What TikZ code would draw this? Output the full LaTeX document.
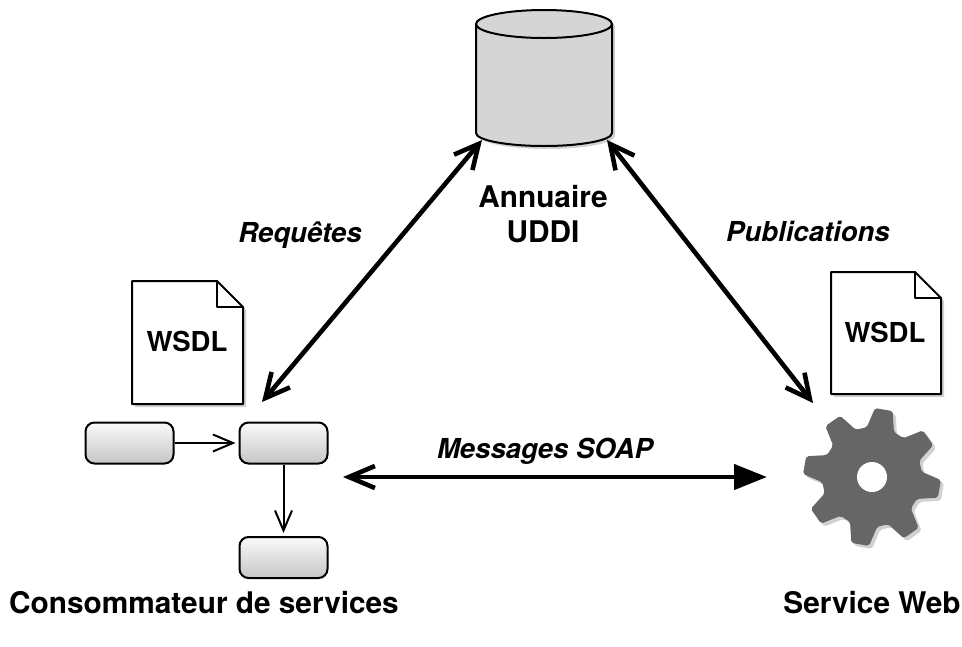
\documentclass[tikz,border=0pt]{standalone}
\usepackage{fontspec}
\setmainfont{TeX Gyre Heros}
\usetikzlibrary{arrows.meta,shadows}
\tikzset{
  softshadow/.style={drop shadow={shadow xshift=3pt,shadow yshift=-3pt,opacity=0.18,fill=black}},
  stepbox/.style={draw, line width=2pt, rounded corners=9pt, minimum width=88pt, minimum height=41pt,
    inner sep=0pt, top color=gray!4, bottom color=gray!45},
  biglabel/.style={font=\fontsize{29.8}{35}\selectfont\bfseries, align=center, inner sep=0pt},
  wsdllabel/.style={font=\fontsize{27.5}{32}\selectfont\bfseries, inner sep=0pt},
  emlabel/.style={font=\fontsize{27.5}{32}\selectfont\bfseries\itshape, inner sep=0pt, anchor=base},
  bigarrow/.style={line width=4.6pt, {Straight Barb[length=24pt,width=24pt]}-{Straight Barb[length=24pt,width=24pt]}},
  smallarrow/.style={line width=2pt, -{Straight Barb[length=20pt,width=17pt]}, shorten >=3pt},
}
\newcommand{\wsdlpage}[4]{% left, top, right, bottom
  \fill [white, softshadow] (#1,#2) -- (#3-26,#2) -- (#3,#2+26) -- (#3,#4) -- (#1,#4) -- cycle;
  \draw [line width=2pt, line join=round] (#1,#2) -- (#3-26,#2) -- (#3,#2+26) -- (#3,#4) -- (#1,#4) -- cycle;
  \draw [line width=2pt, line join=round] (#3-26,#2) -- (#3-26,#2+26) -- (#3,#2+26);
}
\begin{document}
\begin{tikzpicture}[x=1pt,y=-1pt]
\useasboundingbox (0,0) rectangle (962,646);
%%%%%%%%%%%%%%%%%%%%%%%%%%%%%%%
% annuaire
%%%%%%%%%%%%%%%%%%%%%%%%%%%%%%%
\draw [line width=2pt, line join=round, fill=gray!33, softshadow]
  (476,24) -- (476,133) arc [start angle=180, end angle=0, x radius=68, y radius=13]
  -- (612,24) arc [start angle=0, end angle=-180, x radius=68, y radius=14] -- cycle;
\draw [line width=2pt] (476,24) arc [start angle=180, end angle=0, x radius=68, y radius=14];
\node (annuairetext) [biglabel] at (543,214) {Annuaire\\UDDI};
%%%%%%%%%%%%%%%%%%%%%%%%%%%%%%%
% documents
%%%%%%%%%%%%%%%%%%%%%%%%%%%%%%%
\wsdlpage{132}{281}{243}{404}
\wsdlpage{831}{272}{941}{394}
\node (wsdlleft) [wsdllabel] at (187,341) {WSDL};
\node (wsdlright) [wsdllabel] at (885,332) {WSDL};
%%%%%%%%%%%%%%%%%%%%%%%%%%%%%%%
% consommateur
%%%%%%%%%%%%%%%%%%%%%%%%%%%%%%%
\node (boxa) [stepbox] at (129.5,443) {};
\node (boxb) [stepbox] at (283.5,443) {};
\node (boxc) [stepbox] at (283.5,557.5) {};
\draw [smallarrow] (boxa) -- (boxb);
\draw [smallarrow] (boxb) -- (boxc);
%%%%%%%%%%%%%%%%%%%%%%%%%%%%%%%
% service
%%%%%%%%%%%%%%%%%%%%%%%%%%%%%%%
\node (gear) at (872,477) {};
\fill [black!60, softshadow, rounded corners=2pt, shift={(gear)}]
  (-96:50) -- (-87.5:69) -- (-72.5:69) -- (-64:50)
  -- (-51:50) -- (-42.5:69) -- (-27.5:69) -- (-19:50)
  -- (-6:50) -- (2.5:69) -- (17.5:69) -- (26:50)
  -- (39:50) -- (47.5:69) -- (62.5:69) -- (71:50)
  -- (84:50) -- (92.5:69) -- (107.5:69) -- (116:50)
  -- (129:50) -- (137.5:69) -- (152.5:69) -- (161:50)
  -- (174:50) -- (182.5:69) -- (197.5:69) -- (206:50)
  -- (219:50) -- (227.5:69) -- (242.5:69) -- (251:50) -- cycle;
\fill [white] (gear) circle [radius=15];
%%%%%%%%%%%%%%%%%%%%%%%%%%%%%%%
% connectors
%%%%%%%%%%%%%%%%%%%%%%%%%%%%%%%
\coordinate (reqtop) at (482,140);
\coordinate (reqbot) at (262,402);
\coordinate (pubtop) at (607,140);
\coordinate (pubbot) at (813,403);
\coordinate (soapa) at (343,477);
\coordinate (soapb) at (767,477);
\draw [bigarrow] (reqtop) -- (reqbot);
\draw [bigarrow] (pubtop) -- (pubbot);
\draw [line width=4.6pt, {Straight Barb[length=26pt,width=22pt]}-{Triangle[length=33pt,width=25pt]}] (soapa) -- (soapb);
%%%%%%%%%%%%%%%%%%%%%%%%%%%%%%%
% labels
%%%%%%%%%%%%%%%%%%%%%%%%%%%%%%%
\node (requetes) [emlabel] at (300,242) {Requêtes};
\node (publications) [emlabel] at (808,241) {Publications};
\node (soap) [emlabel] at (545,458) {Messages SOAP};
\node (consommateur) [biglabel, anchor=base] at (204,613) {Consommateur de services};
\node (serviceweb) [biglabel, anchor=base] at (872,613) {Service Web};
\end{tikzpicture}
\end{document}
